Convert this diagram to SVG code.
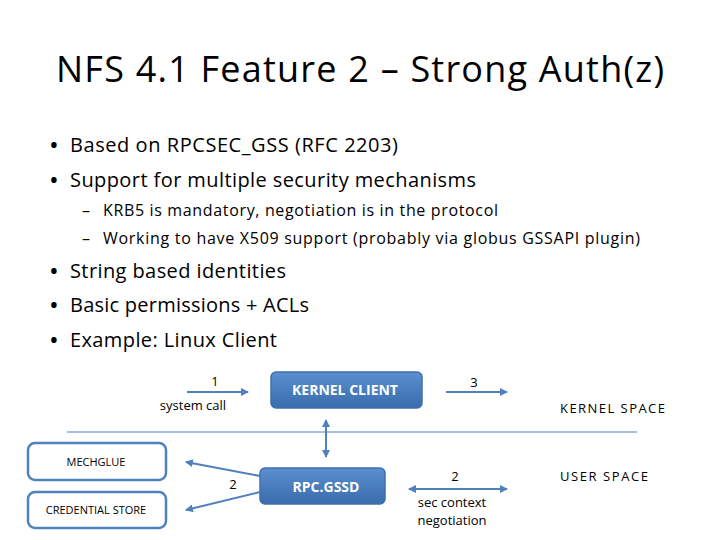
<svg xmlns="http://www.w3.org/2000/svg" width="720" height="540" viewBox="0 0 720 540">
<defs>
<linearGradient id="g" x1="0" y1="0" x2="0" y2="1"><stop offset="0" stop-color="#5b8fd0"/><stop offset="1" stop-color="#3a6cad"/></linearGradient>
<marker id="ah" markerWidth="8" markerHeight="8" refX="7" refY="4" orient="auto-start-reverse" markerUnits="userSpaceOnUse"><path d="M0,0 L8,4 L0,8 z" fill="#4f81bd"/></marker>
</defs>
<style>
text{font-family:"Open Sans","Liberation Sans",sans-serif;fill:#000}
.b{font-size:20px}.s{font-size:16px}.l{font-size:13px}
.d{font-size:26px}
.fb{fill:url(#g);stroke:#3f6fae;stroke-width:1.5}
.ob{fill:#fff;stroke:#4f81bd;stroke-width:2.5}
.wt{fill:#fff;font-size:14px;font-weight:bold}
.bt{font-size:11px}
.c{stroke:#4f81bd;stroke-width:2;fill:none}
</style>
<rect width="720" height="540" fill="#fff"/>
<text x="360" y="82" text-anchor="middle" font-size="36" textLength="608">NFS 4.1 Feature 2 – Strong Auth(z)</text>
<text x="49" y="154" class="d">•</text><text x="70" y="152" class="b" textLength="328">Based on RPCSEC_GSS (RFC 2203)</text>
<text x="49" y="189" class="d">•</text><text x="70" y="187" class="b" textLength="406">Support for multiple security mechanisms</text>
<text x="82" y="216" class="s">–</text><text x="103" y="216" class="s" textLength="395">KRB5 is mandatory, negotiation is in the protocol</text>
<text x="82" y="244" class="s">–</text><text x="103" y="244" class="s" textLength="537">Working to have X509 support (probably via globus GSSAPI plugin)</text>
<text x="49" y="280" class="d">•</text><text x="70" y="278" class="b" textLength="216">String based identities</text>
<text x="49" y="314" class="d">•</text><text x="70" y="312" class="b" textLength="239">Basic permissions + ACLs</text>
<text x="49" y="349" class="d">•</text><text x="70" y="347" class="b" textLength="207">Example: Linux Client</text>
<line x1="67" y1="432" x2="637" y2="432" stroke="#4f81bd" stroke-width="1"/>
<text x="560" y="413" class="l" textLength="105">KERNEL SPACE</text>
<text x="560" y="481" class="l" textLength="88">USER SPACE</text>
<g id="kernel-client"><rect x="271" y="372" width="151" height="36" rx="5" class="fb"/><text x="345" y="395" text-anchor="middle" class="wt">KERNEL CLIENT</text></g>
<g id="rpc-gssd"><rect x="260" y="468" width="125" height="36" rx="5" class="fb"/><text x="326" y="492" text-anchor="middle" class="wt">RPC.GSSD</text></g>
<g id="mechglue"><rect x="28" y="443" width="138" height="37" rx="7" class="ob"/><text x="96" y="466" text-anchor="middle" class="bt">MECHGLUE</text></g>
<g id="credential-store"><rect x="28" y="492" width="138" height="36" rx="7" class="ob"/><text x="96" y="514" text-anchor="middle" class="bt">CREDENTIAL STORE</text></g>
<g id="connectors">
<line x1="187" y1="392" x2="248" y2="392" class="c" marker-end="url(#ah)"/>
<text x="215" y="386" text-anchor="middle" class="l">1</text><text x="193" y="410" text-anchor="middle" class="l">system call</text>
<line x1="446" y1="392" x2="507" y2="392" class="c" marker-end="url(#ah)"/>
<text x="474" y="387" text-anchor="middle" class="l">3</text>
<line x1="326" y1="420" x2="326" y2="457" class="c" marker-start="url(#ah)" marker-end="url(#ah)"/>
<line x1="260" y1="476" x2="186" y2="462" class="c" marker-end="url(#ah)"/>
<line x1="260" y1="492" x2="186" y2="510" class="c" marker-end="url(#ah)"/>
<text x="233" y="489" text-anchor="middle" class="l">2</text>
<line x1="409" y1="489" x2="507" y2="489" class="c" marker-start="url(#ah)" marker-end="url(#ah)"/>
<text x="455" y="481" text-anchor="middle" class="l">2</text>
<text x="452" y="507" text-anchor="middle" class="l" font-size="12">sec context</text>
<text x="452" y="525" text-anchor="middle" class="l" font-size="12">negotiation</text>
</g>
</svg>
